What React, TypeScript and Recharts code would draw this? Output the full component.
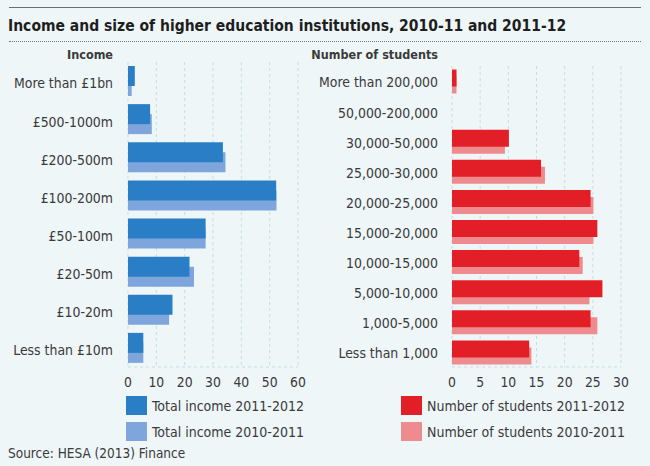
import React from 'react';
import { BarChart, Bar, XAxis, YAxis, CartesianGrid, Legend } from 'recharts';

const incomeCategories = [
  'More than £1bn',
  '£500-1000m',
  '£200-500m',
  '£100-200m',
  '£50-100m',
  '£20-50m',
  '£10-20m',
  'Less than £10m',
];
const income2011_12 = [2.4, 7.8, 33.5, 52.3, 27.4, 21.7, 15.7, 5.4];
const income2010_11 = [1.3, 8.4, 34.4, 52.4, 27.4, 23.3, 14.5, 5.4];
const incomeTicks = [0, 10, 20, 30, 40, 50, 60];

const studentCategories = [
  'More than 200,000',
  '50,000-200,000',
  '30,000-50,000',
  '25,000-30,000',
  '20,000-25,000',
  '15,000-20,000',
  '10,000-15,000',
  '5,000-10,000',
  '1,000-5,000',
  'Less than 1,000',
];
const students2011_12 = [0.8, 0, 10.1, 15.8, 24.6, 25.8, 22.6, 26.7, 24.6, 13.7];
const students2010_11 = [0.8, 0, 9.4, 16.5, 25.1, 25.1, 23.2, 24.4, 25.8, 14.1];
const studentTicks = [0, 5, 10, 15, 20, 25, 30];

const incomeData = incomeCategories.map((cat, i) => ({
  cat,
  cur: income2011_12[i],
  prev: income2010_11[i],
}));
const studentData = studentCategories.map((cat, i) => ({
  cat,
  cur: students2011_12[i],
  prev: students2010_11[i],
}));

const FONT = "'DejaVu Sans Condensed', 'DejaVu Sans', sans-serif";
const TEXT = '#3a3a3a';
const GRID = '#c3dfe5';

const BLUE_DARK = '#2a7ec5';
const BLUE_LIGHT = '#7fa6dc';
const RED_DARK = '#e21f26';
const RED_LIGHT = '#ee8b8f';

function CatTick(props: any) {
  const { x, y, payload, shift } = props;
  return (
    <text
      x={x}
      y={y + shift}
      dy="0.355em"
      textAnchor="end"
      fontSize={13.9}
      fill={TEXT}
      fontFamily={FONT}
    >
      {payload.value}
    </text>
  );
}

function LegendContent(props: any) {
  const items = [...(props.payload || [])].reverse();
  return (
    <div style={{ display: 'flex', flexDirection: 'column' }}>
      {items.map((it: any) => (
        <div
          key={it.value}
          style={{ display: 'flex', alignItems: 'center', height: 19, marginBottom: 7 }}
        >
          <div style={{ width: 21, height: 19, background: it.color }} />
          <span
            style={{
              marginLeft: 5,
              fontFamily: FONT,
              fontSize: 14,
              color: TEXT,
              whiteSpace: 'nowrap',
            }}
          >
            {it.value}
          </span>
        </div>
      ))}
    </div>
  );
}

export default function App() {
  return (
    <div
      style={{
        position: 'absolute',
        left: 0,
        top: 0,
        width: 650,
        height: 466,
        background: '#eef6f8',
        overflow: 'hidden',
      }}
    >
      <div
        style={{
          position: 'absolute',
          left: 9,
          top: 7,
          width: 632,
          height: 0,
          borderTop: '1.5px solid #6d6d6d',
        }}
      />
      <div
        style={{
          position: 'absolute',
          left: 8,
          top: 16,
          fontFamily: FONT,
          fontWeight: 'bold',
          fontSize: 15.5,
          lineHeight: '20px',
          color: '#1e1e1e',
          whiteSpace: 'nowrap',
        }}
      >
        Income and size of higher education institutions, 2010-11 and 2011-12
      </div>
      <div
        style={{
          position: 'absolute',
          left: 9,
          top: 41,
          width: 632,
          height: 0,
          borderTop: '1px dotted #777',
        }}
      />
      <div
        style={{
          position: 'absolute',
          right: 650 - 113,
          top: 47,
          fontFamily: FONT,
          fontWeight: 'bold',
          fontSize: 12.5,
          lineHeight: '15px',
          color: TEXT,
          whiteSpace: 'nowrap',
        }}
      >
        Income
      </div>
      <div
        style={{
          position: 'absolute',
          right: 650 - 438,
          top: 47,
          fontFamily: FONT,
          fontWeight: 'bold',
          fontSize: 12.5,
          lineHeight: '15px',
          color: TEXT,
          whiteSpace: 'nowrap',
        }}
      >
        Number of students
      </div>

      <div style={{ position: 'absolute', left: 0, top: 0 }}>
        <BarChart
          width={310}
          height={466}
          data={incomeData}
          layout="vertical"
          margin={{ top: 62, right: 12, bottom: 79, left: 28 }}
          barCategoryGap={0}
        >
          <CartesianGrid
            horizontal={false}
            vertical
            stroke={GRID}
            strokeDasharray="3 3"
            yAxisId="dark"
          />
          <XAxis
            type="number"
            domain={[0, 60]}
            ticks={incomeTicks}
            axisLine={{ stroke: GRID, strokeDasharray: '3 3' }}
            tickLine={false}
            tickSize={0}
            tickMargin={10}
            height={20}
            tick={{ fontSize: 13.8, fill: TEXT, fontFamily: FONT }}
          />
          <YAxis
            yAxisId="dark"
            type="category"
            dataKey="cat"
            width={100}
            axisLine={false}
            tickLine={false}
            tickSize={0}
            tickMargin={15}
            interval={0}
            padding={{ top: -5, bottom: 5 }}
            tick={(p: any) => <CatTick {...p} shift={7.5} />}
          />
          <YAxis
            yAxisId="light"
            type="category"
            dataKey="cat"
            hide
            padding={{ top: 5, bottom: -5 }}
          />
          <Bar
            yAxisId="light"
            dataKey="prev"
            name="Total income 2010-2011"
            fill={BLUE_LIGHT}
            barSize={20}
            isAnimationActive={false}
          />
          <Bar
            yAxisId="dark"
            dataKey="cur"
            name="Total income 2011-2012"
            fill={BLUE_DARK}
            barSize={20}
            isAnimationActive={false}
          />
          <Legend
            layout="vertical"
            align="center"
            verticalAlign="middle"
            content={(p: any) => <LegendContent {...p} />}
            wrapperStyle={{ left: 126, top: 396, width: 'auto', height: 'auto' }}
          />
        </BarChart>
      </div>

      <div style={{ position: 'absolute', left: 310, top: 0 }}>
        <BarChart
          width={330}
          height={466}
          data={studentData}
          layout="vertical"
          margin={{ top: 66, right: 19, bottom: 79, left: 12 }}
          barCategoryGap={0}
        >
          <CartesianGrid
            horizontal={false}
            vertical
            stroke={GRID}
            strokeDasharray="3 3"
            yAxisId="dark"
          />
          <XAxis
            type="number"
            domain={[0, 30]}
            ticks={studentTicks}
            axisLine={{ stroke: GRID, strokeDasharray: '3 3' }}
            tickLine={false}
            tickSize={0}
            tickMargin={10}
            height={20}
            tick={{ fontSize: 13.8, fill: TEXT, fontFamily: FONT }}
          />
          <YAxis
            yAxisId="dark"
            type="category"
            dataKey="cat"
            width={130}
            axisLine={false}
            tickLine={false}
            tickSize={0}
            tickMargin={14}
            interval={0}
            padding={{ top: -3.5, bottom: 3.5 }}
            tick={(p: any) => <CatTick {...p} shift={5} />}
          />
          <YAxis
            yAxisId="light"
            type="category"
            dataKey="cat"
            hide
            padding={{ top: 3.5, bottom: -3.5 }}
          />
          <Bar
            yAxisId="light"
            dataKey="prev"
            name="Number of students 2010-2011"
            fill={RED_LIGHT}
            barSize={17}
            isAnimationActive={false}
          />
          <Bar
            yAxisId="dark"
            dataKey="cur"
            name="Number of students 2011-2012"
            fill={RED_DARK}
            barSize={17}
            isAnimationActive={false}
          />
          <Legend
            layout="vertical"
            align="center"
            verticalAlign="middle"
            content={(p: any) => <LegendContent {...p} />}
            wrapperStyle={{ left: 91, top: 396, width: 'auto', height: 'auto' }}
          />
        </BarChart>
      </div>

      <div
        style={{
          position: 'absolute',
          left: 8,
          top: 446,
          fontFamily: FONT,
          fontSize: 13.5,
          lineHeight: '15px',
          color: TEXT,
          whiteSpace: 'nowrap',
        }}
      >
        Source: HESA (2013) Finance
      </div>
    </div>
  );
}
